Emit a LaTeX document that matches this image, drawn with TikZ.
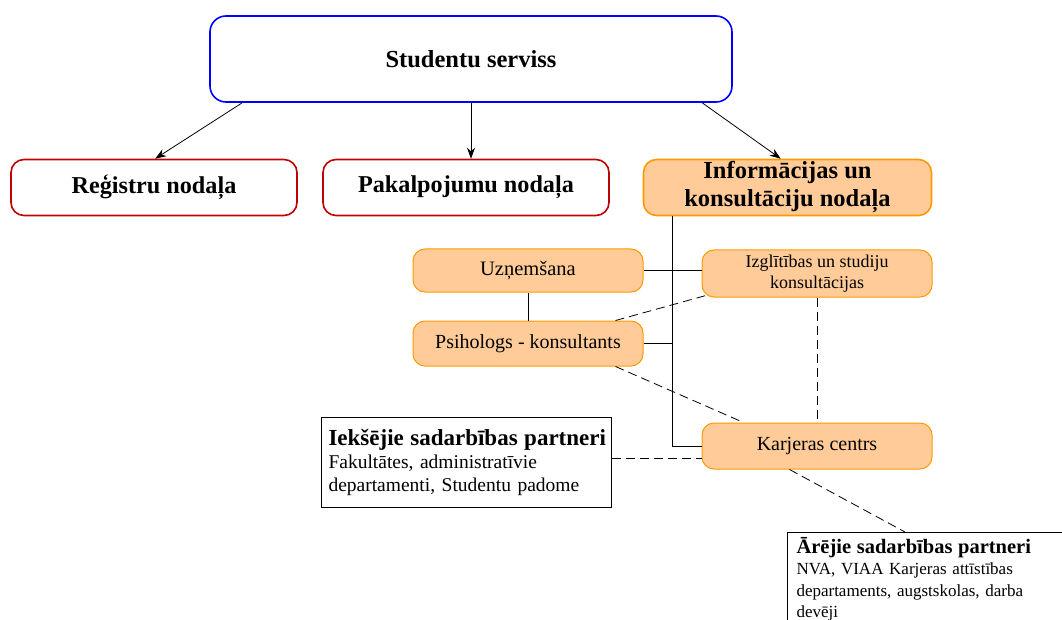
\documentclass[tikz,border=0pt]{standalone}
\usepackage{fontspec}
\setmainfont{Liberation Serif}
\usetikzlibrary{arrows.meta,calc}
\definecolor{topblue}{RGB}{0,0,255}
\definecolor{deptred}{RGB}{192,0,0}
\definecolor{unitfill}{RGB}{255,204,153}
\definecolor{unitline}{RGB}{255,153,0}
\begin{document}
\begin{tikzpicture}[x=1pt,y=-1pt,
  topbox/.style={draw=topblue,line width=1.6pt,rounded corners=16pt,fill=white,
    minimum width=522pt,minimum height=86pt,inner sep=0pt,font=\bfseries\fontsize{24.5}{28}\selectfont},
  deptbox/.style={draw=deptred,line width=1.6pt,rounded corners=13pt,fill=white,
    minimum width=286pt,minimum height=56pt,inner sep=0pt,font=\bfseries\fontsize{24.2}{28}\selectfont},
  mainunit/.style={draw=unitline,fill=unitfill,line width=1.6pt,rounded corners=13pt,
    minimum width=288pt,minimum height=56pt,inner sep=0pt,align=center,
    font=\bfseries\fontsize{24.5}{28}\selectfont},
  subunit/.style={draw=unitline,fill=unitfill,line width=1pt,rounded corners=12pt,
    minimum width=230pt,inner sep=0pt,align=center},
  partnerbox/.style={draw,line width=1pt,fill=white,inner sep=0pt,anchor=north west,
    text width=#1,align=left},
  link/.style={line width=0.8pt},
  dlink/.style={line width=0.8pt,dash pattern=on 9pt off 5pt},
  arr/.style={line width=0.8pt,-{Stealth[length=11pt,width=8pt]}}]
\useasboundingbox (0,0) rectangle (1062,620);
\clip (0,0) rectangle (1062,620);

% top level and departments
\node[topbox] (ss) at (471,59) {Studentu serviss};
\node[deptbox] (reg) at (154,187.5) {Reģistru nodaļa};
\node[deptbox] (pak) at (466,187.5) {Pakalpojumu nodaļa};
\node[mainunit] (info) at (787.5,187.5) {Informācijas un\\konsultāciju nodaļa};

% units of the information and consultation department
\node[subunit,minimum height=43pt,font=\fontsize{20.5}{24}\selectfont] (uzn) at (528,270.5) {Uzņemšana};
\node[subunit,minimum height=47pt,font=\fontsize{18}{21}\selectfont] (izg) at (817,273.5) {Izglītības un studiju\\konsultācijas};
\node[subunit,minimum height=45pt,font=\fontsize{20}{24}\selectfont] (psi) at (528,343.5) {Psihologs - konsultants};
\node[subunit,minimum height=46pt,font=\fontsize{20}{24}\selectfont] (kar) at (817,446) {Karjeras centrs};

% partners
\node[partnerbox=290pt,minimum height=90pt,font=\fontsize{19.5}{23}\selectfont] (iek) at (321,417)
  {\hspace*{7pt}\textbf{\fontsize{23}{23}\selectfont Iekšējie sadarbības partneri}\\
   \hspace*{7pt}Fakultātes, administratīvie\\
   \hspace*{7pt}departamenti, Studentu padome};
\node[partnerbox=300pt,minimum height=94pt,font=\fontsize{17}{21.5}\selectfont] (are) at (787,532)
  {\hspace*{9pt}\textbf{\fontsize{20.5}{21.5}\selectfont Ārējie sadarbības partneri}\\
   \hspace*{9pt}NVA, VIAA Karjeras attīstības\\
   \hspace*{9pt}departaments, augstskolas, darba\\
   \hspace*{9pt}devēji};

% arrows from the top box
\draw[arr] ($(ss.south west)+(33,0)$) -- ($(reg.north west)+(145,0)$);
\draw[arr] (ss.south |- ss.south) -- (ss.south |- pak.north);
\draw[arr] ($(ss.south west)+(493,0)$) -- ($(info.north west)+(138,0)$);

% solid links
\coordinate (vx) at (672,0);
\draw[link] (vx |- info.south) |- (kar.west);
\draw[link] (uzn.east) -- (uzn.east -| izg.west);
\draw[link] (psi.east) -- (psi.east -| vx);
\draw[link] (uzn.south) -- (psi.north);

% dashed links
\coordinate (kin) at ($(kar.west)+(0,12)$);
\draw[dlink] (iek.east |- kin) -- (kin);
\draw[dlink] ($(psi.north east)+(-28,0)$) -- ($(izg.south west)+(8,-3)$);
\draw[dlink] ($(psi.south east)+(-28,0)$) -- ($(kar.north west)+(42,0)$);
\draw[dlink] (izg.south) -- (kar.north);
\draw[dlink] ($(kar.south west)+(88,0)$) -- ($(are.north west)+(118,0)$);
\end{tikzpicture}
\end{document}
